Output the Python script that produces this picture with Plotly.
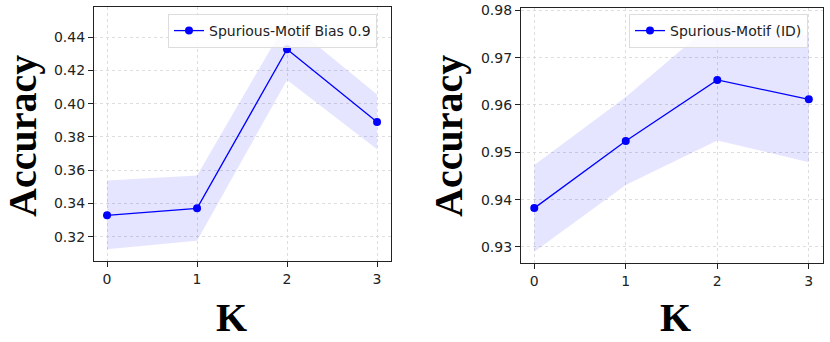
import plotly.graph_objects as go

K = [0, 1, 2, 3]

bias_mean = [0.3329, 0.3371, 0.4328, 0.3890]
bias_upper = [0.3538, 0.3568, 0.4500, 0.4056]
bias_lower = [0.3124, 0.3176, 0.4143, 0.3726]

id_mean = [0.9382, 0.9524, 0.9653, 0.9612]
id_upper = [0.9473, 0.9617, 0.9781, 0.9748]
id_lower = [0.9290, 0.9431, 0.9525, 0.9479]

W, H = 830, 342
BLUE = "#0000ff"
FILL = "rgba(0,0,255,0.1)"

fig = go.Figure()

def add_panel(xa, ya, mean, up, lo, name, legend):
    fig.add_trace(go.Scatter(x=K, y=up, mode="lines", line=dict(width=0), showlegend=False,
                             hoverinfo="skip", xaxis=xa, yaxis=ya))
    fig.add_trace(go.Scatter(x=K, y=lo, mode="lines", line=dict(width=0), fill="tonexty",
                             fillcolor=FILL, showlegend=False, hoverinfo="skip", xaxis=xa, yaxis=ya))
    fig.add_trace(go.Scatter(x=K, y=mean, mode="lines+markers", name=name,
                             line=dict(color=BLUE, width=1.3), marker=dict(color=BLUE, size=8),
                             xaxis=xa, yaxis=ya, legend=legend))

add_panel("x", "y", bias_mean, bias_upper, bias_lower, "Spurious-Motif Bias 0.9", "legend")
add_panel("x2", "y2", id_mean, id_upper, id_lower, "Spurious-Motif (ID)", "legend2")

def px(v):
    return v / W

def py(v):
    return 1 - v / H

axis_common = dict(showline=True, linecolor="#222", linewidth=1.2, mirror=True,
                   ticks="outside", ticklen=5, tickcolor="#222", automargin=False,
                   showgrid=True, gridcolor="#dddddd", griddash="dot", gridwidth=0.8,
                   zeroline=False, tickfont=dict(family="DejaVu Sans", size=14, color="#222"))

fig.update_layout(
    width=W, height=H, margin=dict(l=0, r=0, t=0, b=0, autoexpand=False),
    paper_bgcolor="white", plot_bgcolor="white",
    xaxis=dict(domain=[px(94), px(391)], range=[-0.145, 3.155], tickvals=K, anchor="y", **axis_common),
    yaxis=dict(domain=[py(261), py(7)], range=[0.3054, 0.4582], tickvals=[0.32, 0.34, 0.36, 0.38, 0.40, 0.42, 0.44],
               tickformat=".2f", anchor="x", **axis_common),
    xaxis2=dict(domain=[px(521), px(823)], range=[-0.145, 3.155], tickvals=K, anchor="y2", **axis_common),
    yaxis2=dict(domain=[py(263), py(8)], range=[0.9266, 0.9805], tickvals=[0.93, 0.94, 0.95, 0.96, 0.97, 0.98],
                tickformat=".2f", anchor="x2", **axis_common),
    legend=dict(x=px(377), y=py(14), xanchor="right", yanchor="top", bgcolor="rgba(255,255,255,0.85)",
                bordercolor="#dddddd", borderwidth=1, font=dict(family="DejaVu Sans", size=14, color="#222"),
                itemwidth=30),
    legend2=dict(x=px(808), y=py(14), xanchor="right", yanchor="top", bgcolor="rgba(255,255,255,0.85)",
                 bordercolor="#dddddd", borderwidth=1, font=dict(family="DejaVu Sans", size=14, color="#222"),
                 itemwidth=30),
    showlegend=True,
)

title_font = dict(family="Liberation Serif", size=40, color="black")
for xc, text, yc, ang in [(22, "Accuracy", 136, -90), (448, "Accuracy", 136, -90),
                          (231, "K", 317, 0), (675, "K", 317, 0)]:
    fig.add_annotation(x=px(xc), y=py(yc), xref="paper", yref="paper", text=f"<b>{text}</b>",
                       showarrow=False, textangle=ang, font=title_font, xanchor="center", yanchor="middle")

fig.write_html("out.html", config={"displayModeBar": False},
               post_script="document.body.style.margin='0';document.body.style.overflow='hidden';")
